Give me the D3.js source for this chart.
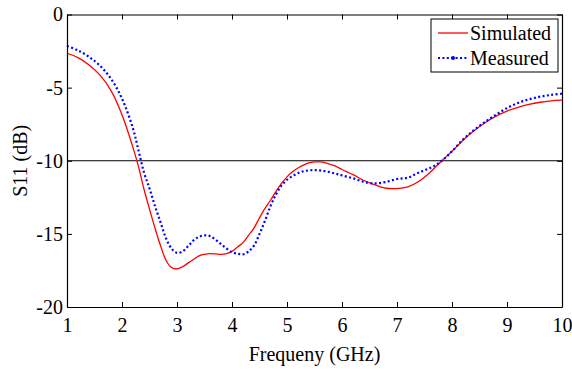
<!DOCTYPE html>
<html>

<head>
    <meta charset="UTF-8">
    <style>
        body { margin: 0; background: #fff; }
        svg text { font-family: "Liberation Serif", "Times New Roman", "DejaVu Serif", serif !important; fill: #000; }
    </style>
</head>

<body>
    <svg></svg>
    <script src="https://d3js.org/d3.v7.min.js"></script>
    <script>
        let width = 572, height = 371;

        // frequency grid (GHz)
        const freq = [1.0, 1.2, 1.4, 1.6, 1.8, 2.0, 2.2, 2.3, 2.4, 2.5, 2.6, 2.7, 2.8, 2.9, 3.0,
            3.1, 3.2, 3.3, 3.4, 3.5, 3.6, 3.7, 3.8, 3.9, 4.0, 4.1, 4.2, 4.3, 4.4, 4.5, 4.6, 4.7,
            4.8, 4.9, 5.0, 5.1, 5.2, 5.3, 5.4, 5.5, 5.6, 5.7, 5.8, 5.9, 6.0, 6.2, 6.4, 6.6, 6.8,
            7.0, 7.2, 7.4, 7.6, 7.8, 8.0, 8.2, 8.4, 8.6, 8.8, 9.0, 9.2, 9.4, 9.6, 9.8, 10.0];

        const simulated = [-2.65, -2.95, -3.45, -4.15, -5.2, -6.85, -9.1, -10.4, -11.95, -13.3, -14.6,
            -15.8, -16.8, -17.3, -17.4, -17.25, -17.0, -16.75, -16.5, -16.4, -16.35, -16.37, -16.4,
            -16.35, -16.2, -15.9, -15.6, -15.1, -14.6, -13.9, -13.25, -12.7, -12.1, -11.55, -11.1,
            -10.75, -10.5, -10.3, -10.15, -10.08, -10.08, -10.15, -10.27, -10.4, -10.6, -10.95,
            -11.35, -11.65, -11.88, -11.9, -11.78, -11.4, -10.8, -10.05, -9.35, -8.6, -7.95, -7.4,
            -6.95, -6.6, -6.35, -6.15, -6.0, -5.9, -5.85];

        const measured = [-2.15, -2.45, -2.9, -3.5, -4.4, -5.75, -7.8, -9.3, -10.8, -11.9, -13.1,
            -14.2, -15.3, -16.0, -16.3, -16.2, -15.85, -15.45, -15.2, -15.1, -15.15, -15.4, -15.7,
            -16.0, -16.25, -16.35, -16.4, -16.2, -15.8, -15.0, -14.1, -13.1, -12.3, -11.7, -11.3,
            -11.05, -10.85, -10.72, -10.66, -10.64, -10.66, -10.72, -10.8, -10.9, -11.0, -11.2,
            -11.45, -11.55, -11.45, -11.25, -11.15, -10.8, -10.5, -10.05, -9.35, -8.55, -7.9, -7.35,
            -6.85, -6.4, -6.05, -5.8, -5.62, -5.5, -5.42];

        const xTicks = [1, 2, 3, 4, 5, 6, 7, 8, 9, 10];
        const yTicks = [0, -5, -10, -15, -20];
        const seriesNames = ["Simulated", "Measured"];

        let svg = d3.select("svg")
            .attr("width", width)
            .attr("height", height);

        let mLeft = 67, mRight = 562, mTop = 14.5, mBottom = 307;
        let fs = 20;

        let x = d3.scaleLinear().domain([1, 10]).range([mLeft, mRight]);
        let y = d3.scaleLinear().domain([-20, 0]).range([mBottom, mTop]);

        // -10 dB reference line
        svg.append("line")
            .attr("x1", mLeft).attr("x2", mRight)
            .attr("y1", y(-10)).attr("y2", y(-10))
            .attr("stroke", "#000").attr("stroke-width", 1);

        let line = d3.line()
            .x((d, i) => x(freq[i]))
            .y(d => y(d))
            .curve(d3.curveCatmullRom);

        svg.append("path")
            .datum(simulated)
            .attr("d", line)
            .attr("fill", "none")
            .attr("stroke", "#ff0000")
            .attr("stroke-width", 1.3);

        svg.append("path")
            .datum(measured)
            .attr("d", line)
            .attr("fill", "none")
            .attr("stroke", "#0000ff")
            .attr("stroke-width", 2.2)
            .attr("stroke-dasharray", "2,2.4");

        // axes, ticks inside on all four sides
        let tickLen = 5;
        svg.append("g")
            .attr("transform", "translate(0," + mBottom + ")")
            .call(d3.axisBottom(x).tickValues(xTicks).tickSizeInner(-tickLen).tickSizeOuter(0).tickPadding(9))
            .call(g => g.selectAll("text").attr("font-size", fs).attr("dy", "0.78em"));

        svg.append("g")
            .attr("transform", "translate(0," + mTop + ")")
            .call(d3.axisTop(x).tickValues(xTicks).tickSizeInner(-tickLen).tickSizeOuter(0).tickFormat(""));

        svg.append("g")
            .attr("transform", "translate(" + mLeft + ",0)")
            .call(d3.axisLeft(y).tickValues(yTicks).tickFormat(d => String(d))
                .tickSizeInner(-tickLen).tickSizeOuter(0).tickPadding(4))
            .call(g => g.selectAll("text").attr("font-size", fs));

        svg.append("g")
            .attr("transform", "translate(" + mRight + ",0)")
            .call(d3.axisRight(y).tickValues(yTicks).tickSizeInner(-tickLen).tickSizeOuter(0).tickFormat(""));

        svg.selectAll("g").attr("font-family", null);
        svg.selectAll(".domain").attr("stroke", "#000").attr("stroke-width", 1.2);
        svg.selectAll(".tick line").attr("stroke", "#000");
        svg.selectAll(".tick text").attr("fill", "#000");

        // axis labels
        svg.append("text")
            .attr("x", (mLeft + mRight) / 2)
            .attr("y", 361)
            .attr("text-anchor", "middle")
            .attr("font-size", fs)
            .text("Frequeny (GHz)");

        svg.append("text")
            .attr("transform", "translate(27," + y(-10) + ") rotate(-90)")
            .attr("text-anchor", "middle")
            .attr("font-size", fs)
            .text("S11 (dB)");

        // legend
        let lg = svg.append("g");
        lg.append("rect")
            .attr("x", 431).attr("y", 19)
            .attr("width", 127).attr("height", 53)
            .attr("fill", "#fff").attr("stroke", "#000").attr("stroke-width", 1);

        seriesNames.forEach((name, i) => {
            let ly = 33 + i * 25;
            let l = lg.append("line")
                .attr("x1", 438).attr("x2", 468)
                .attr("y1", ly).attr("y2", ly);
            if (i == 0) {
                l.attr("stroke", "#ff0000").attr("stroke-width", 1.3);
            } else {
                l.attr("stroke", "#0000ff").attr("stroke-width", 2.2).attr("stroke-dasharray", "2,2.4");
                lg.append("circle").attr("cx", 453).attr("cy", ly).attr("r", 2).attr("fill", "#0000ff");
            }
            lg.append("text")
                .attr("x", 470).attr("y", ly + 7)
                .attr("font-size", fs)
                .text(name);
        });
    </script>
</body>

</html>
